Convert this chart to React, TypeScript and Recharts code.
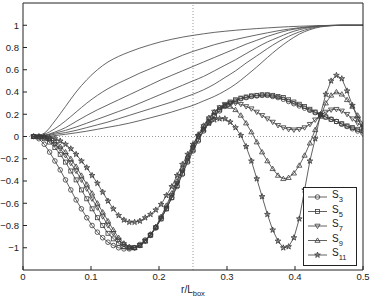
import React from 'react';
import { LineChart, Line, XAxis, YAxis, ReferenceLine, Legend } from 'recharts';

// Marker grid (r / L_box)
const rMarked = [
  0.0156, 0.0234, 0.0313, 0.0391, 0.0469, 0.0547, 0.0625, 0.0703, 0.0781, 0.0859,
  0.0938, 0.1016, 0.1094, 0.1172, 0.125, 0.1328, 0.1406, 0.1484, 0.1563, 0.1641,
  0.1719, 0.1797, 0.1875, 0.1953, 0.2031, 0.2109, 0.2188, 0.2266, 0.2344, 0.2422,
  0.25, 0.2578, 0.2656, 0.2734, 0.2813, 0.2891, 0.2969, 0.3047, 0.3125, 0.3203,
  0.3281, 0.3359, 0.3438, 0.3516, 0.3594, 0.3672, 0.375, 0.3828, 0.3906, 0.3984,
  0.4063, 0.4141, 0.4219, 0.4297, 0.4375, 0.4453, 0.4531, 0.4609, 0.4688, 0.4766,
  0.4844, 0.4922, 0.5,
];

const s3 = [
  0.0, -0.02, -0.07, -0.14, -0.22, -0.3, -0.39, -0.48, -0.57, -0.65,
  -0.73, -0.8, -0.86, -0.91, -0.95, -0.98, -1.0, -1.01, -1.01, -1.0,
  -0.97, -0.93, -0.88, -0.82, -0.74, -0.65, -0.55, -0.45, -0.34, -0.23,
  -0.13, -0.04, 0.05, 0.12, 0.18, 0.23, 0.27, 0.3, 0.32, 0.34,
  0.35, 0.36, 0.365, 0.37, 0.37, 0.36, 0.35, 0.335, 0.315, 0.295,
  0.275, 0.255, 0.235, 0.215, 0.195, 0.175, 0.155, 0.135, 0.11, 0.09,
  0.07, 0.05, 0.03,
];
const s5 = [
  0.0, -0.005, -0.02, -0.05, -0.1, -0.16, -0.23, -0.31, -0.39, -0.48,
  -0.56, -0.65, -0.73, -0.8, -0.87, -0.92, -0.96, -0.99, -1.0, -1.0,
  -0.98, -0.94, -0.89, -0.82, -0.74, -0.65, -0.55, -0.44, -0.33, -0.22,
  -0.12, -0.03, 0.06, 0.13, 0.19, 0.24, 0.28, 0.31, 0.33, 0.345,
  0.355, 0.365, 0.37, 0.375, 0.375, 0.37, 0.36, 0.35, 0.33, 0.31,
  0.29, 0.27, 0.245, 0.22, 0.195, 0.175, 0.155, 0.135, 0.115, 0.095,
  0.08, 0.065, 0.05,
];
const s7 = [
  0.0, 0.0, -0.01, -0.03, -0.07, -0.11, -0.17, -0.24, -0.31, -0.39,
  -0.47, -0.56, -0.64, -0.72, -0.8, -0.87, -0.93, -0.97, -1.0, -1.0,
  -0.98, -0.94, -0.89, -0.82, -0.73, -0.64, -0.53, -0.42, -0.31, -0.2,
  -0.1, 0.0, 0.09, 0.16, 0.22, 0.26, 0.29, 0.3, 0.3, 0.29,
  0.27, 0.25, 0.22, 0.19, 0.16, 0.13, 0.1, 0.08, 0.065, 0.06,
  0.065, 0.08, 0.11, 0.15, 0.19, 0.22, 0.24, 0.245, 0.23, 0.2,
  0.16, 0.12, 0.09,
];
const s9 = [
  0.0, 0.0, -0.005, -0.02, -0.05, -0.09, -0.14, -0.2, -0.27, -0.35,
  -0.43, -0.51, -0.6, -0.68, -0.76, -0.84, -0.91, -0.96, -0.99, -1.0,
  -0.98, -0.94, -0.88, -0.81, -0.72, -0.62, -0.51, -0.4, -0.29, -0.18,
  -0.08, 0.02, 0.1, 0.17, 0.22, 0.26, 0.275, 0.27, 0.24, 0.19,
  0.12, 0.04, -0.05, -0.14, -0.22, -0.29, -0.35, -0.38, -0.37, -0.33,
  -0.26, -0.17, -0.06, 0.06, 0.18, 0.3, 0.37, 0.4, 0.38, 0.33,
  0.27, 0.19, 0.11,
];
const s11 = [
  0.0, 0.0, 0.0, -0.01, -0.02, -0.04, -0.07, -0.11, -0.16, -0.22,
  -0.28, -0.35, -0.42, -0.5, -0.58, -0.65, -0.71, -0.75, -0.77, -0.77,
  -0.76, -0.73, -0.7, -0.66, -0.61, -0.53, -0.45, -0.35, -0.25, -0.16,
  -0.07, 0.01, 0.07, 0.12, 0.15, 0.16, 0.16, 0.13, 0.08, 0.01,
  -0.09, -0.22, -0.38, -0.54, -0.7, -0.84, -0.94, -1.0, -0.99, -0.91,
  -0.74, -0.48, -0.22, -0.02, 0.2, 0.38, 0.5, 0.55, 0.52, 0.41,
  0.28, 0.16, 0.08,
];

// Unmarked monotone curves
const rPlain = [
  0.0156, 0.0313, 0.0469, 0.0625, 0.0781, 0.0938, 0.1094, 0.125, 0.1406, 0.1563,
  0.1719, 0.1875, 0.2031, 0.2188, 0.2344, 0.25, 0.2656, 0.2813, 0.2969, 0.3125,
  0.3281, 0.3438, 0.3594, 0.375, 0.3906, 0.4063, 0.4219, 0.4375, 0.4531, 0.4688,
  0.4844, 0.5,
];
const c1 = [
  0.0, 0.03, 0.14, 0.27, 0.4, 0.51, 0.6, 0.67, 0.72, 0.76,
  0.795, 0.825, 0.852, 0.874, 0.893, 0.909, 0.923, 0.936, 0.946, 0.955,
  0.963, 0.97, 0.976, 0.982, 0.987, 0.991, 0.994, 0.997, 0.999, 1.0,
  1.0, 1.0,
];
const c2 = [
  0.0, 0.02, 0.07, 0.14, 0.22, 0.3, 0.37, 0.43, 0.48, 0.525,
  0.57, 0.61, 0.65, 0.69, 0.73, 0.765, 0.795, 0.825, 0.85, 0.872,
  0.893, 0.913, 0.932, 0.95, 0.965, 0.978, 0.988, 0.995, 0.999, 1.0,
  1.0, 1.0,
];
const c3 = [
  0.0, 0.01, 0.04, 0.08, 0.135, 0.19, 0.24, 0.285, 0.33, 0.375,
  0.42, 0.465, 0.51, 0.55, 0.59, 0.63, 0.67, 0.71, 0.75, 0.79,
  0.83, 0.865, 0.9, 0.93, 0.955, 0.972, 0.985, 0.994, 0.998, 1.0,
  1.0, 1.0,
];
const c4 = [
  0.0, 0.01, 0.03, 0.055, 0.085, 0.12, 0.155, 0.19, 0.225, 0.26,
  0.3, 0.34, 0.38, 0.42, 0.46, 0.5, 0.54, 0.59, 0.64, 0.69,
  0.745, 0.8, 0.85, 0.89, 0.93, 0.96, 0.98, 0.992, 0.998, 1.0,
  1.0, 1.0,
];
const c5 = [
  0.0, 0.005, 0.02, 0.035, 0.055, 0.08, 0.105, 0.13, 0.16, 0.19,
  0.22, 0.25, 0.28, 0.31, 0.345, 0.38, 0.42, 0.47, 0.53, 0.59,
  0.66, 0.725, 0.79, 0.85, 0.9, 0.94, 0.97, 0.99, 0.997, 1.0,
  1.0, 1.0,
];
const c6 = [
  0.0, 0.0, 0.008, 0.02, 0.033, 0.048, 0.065, 0.083, 0.1, 0.12,
  0.143, 0.168, 0.193, 0.22, 0.25, 0.28, 0.32, 0.36, 0.41, 0.47,
  0.545, 0.625, 0.71, 0.79, 0.86, 0.92, 0.96, 0.985, 0.995, 1.0,
  1.0, 1.0,
];

const xTicks = [0, 0.1, 0.2, 0.3, 0.4, 0.5];
const yTicks = [-1, -0.8, -0.6, -0.4, -0.2, 0, 0.2, 0.4, 0.6, 0.8, 1];

const markedSeries = [
  { key: 's3', label: '3', values: s3, shape: 'circle' },
  { key: 's5', label: '5', values: s5, shape: 'square' },
  { key: 's7', label: '7', values: s7, shape: 'triDown' },
  { key: 's9', label: '9', values: s9, shape: 'triUp' },
  { key: 's11', label: '11', values: s11, shape: 'star' },
];
const plainSeries = [c1, c2, c3, c4, c5, c6];

const LINE = '#3a3a3a';
const FONT = 'Liberation Sans, Arial, sans-serif';

function marker(shape: string, cx: number, cy: number, key: string) {
  const common = { fill: 'none', stroke: LINE, strokeWidth: 0.8 };
  if (shape === 'circle') return <circle key={key} cx={cx} cy={cy} r={2.3} {...common} />;
  if (shape === 'square') return <rect key={key} x={cx - 2} y={cy - 2} width={4} height={4} {...common} />;
  if (shape === 'triDown')
    return <polygon key={key} points={`${cx - 2.6},${cy - 1.8} ${cx + 2.6},${cy - 1.8} ${cx},${cy + 2.6}`} {...common} />;
  if (shape === 'triUp')
    return <polygon key={key} points={`${cx - 2.6},${cy + 1.8} ${cx + 2.6},${cy + 1.8} ${cx},${cy - 2.6}`} {...common} />;
  const pts: string[] = [];
  for (let i = 0; i < 10; i++) {
    const rad = i % 2 === 0 ? 3 : 1.2;
    const a = -Math.PI / 2 + (i * Math.PI) / 5;
    pts.push(`${cx + rad * Math.cos(a)},${cy + rad * Math.sin(a)}`);
  }
  return <polygon key={key} points={pts.join(' ')} fill={LINE} fillOpacity={0.4} stroke={LINE} strokeWidth={0.8} />;
}

const fmt = (v: number) => (v < 0 ? '\u2212' + String(Math.abs(v)) : String(v));

function XLabel(props: any) {
  const vb = props.viewBox || {};
  const cx = vb.x + vb.width / 2;
  return (
    <text x={cx} y={293} textAnchor="middle" fontFamily={FONT} fontSize={10} fill="#222">
      r/L
      <tspan fontSize={7.5} dy={3}>box</tspan>
    </text>
  );
}

function LegendBox() {
  const rows = [10, 24.5, 39, 53.5, 68];
  return (
    <svg width={54} height={79} style={{ display: 'block' }}>
      <rect x={0.5} y={0.5} width={53} height={78} fill="#fff" stroke="#222" strokeWidth={1} />
      {markedSeries.map((s, i) => (
        <g key={s.key}>
          <line x1={5} x2={24} y1={rows[i]} y2={rows[i]} stroke={LINE} strokeWidth={0.8} />
          {marker(s.shape, 14.5, rows[i], 'm' + i)}
          <text x={29} y={rows[i] + 1} fontFamily={FONT} fontSize={10} fill="#222">
            S<tspan fontSize={7.5} dy={4}>{s.label}</tspan>
          </text>
        </g>
      ))}
    </svg>
  );
}

export default function App() {
  const markedData = markedSeries.map((s) => rMarked.map((r, i) => ({ r, v: s.values[i] })));
  const plainData = plainSeries.map((c) => rPlain.map((r, i) => ({ r, v: c[i] })));
  const tickStyle = { fontFamily: FONT, fontSize: 9.5, fill: '#222' };
  return (
    <div style={{ position: 'absolute', left: 0, top: 0, background: '#fff' }}>
      <LineChart width={374} height={301} margin={{ top: 2, right: 10, bottom: 0, left: 0 }}>
        <XAxis
          dataKey="r"
          type="number"
          domain={[0, 0.5]}
          ticks={xTicks}
          tickFormatter={fmt}
          allowDataOverflow
          height={31}
          tickSize={-4}
          tickMargin={7}
          tick={tickStyle}
          stroke="#222"
          label={<XLabel />}
        />
        <XAxis
          xAxisId="top"
          orientation="top"
          type="number"
          domain={[0, 0.5]}
          ticks={xTicks}
          allowDataOverflow
          height={1}
          tickSize={-4}
          tick={false}
          stroke="#222"
        />
        <YAxis
          type="number"
          domain={[-1.2, 1.2]}
          ticks={yTicks}
          tickFormatter={fmt}
          allowDataOverflow
          width={23}
          tickSize={-4}
          tickMargin={8}
          tick={tickStyle}
          stroke="#222"
        />
        <YAxis
          yAxisId="right"
          orientation="right"
          type="number"
          domain={[-1.2, 1.2]}
          ticks={yTicks}
          allowDataOverflow
          width={1}
          tickSize={-4}
          tick={false}
          stroke="#222"
        />
        <ReferenceLine y={0} stroke="#9a9a9a" strokeDasharray="1 2" />
        <ReferenceLine x={0.25} stroke="#9a9a9a" strokeDasharray="1 2" />
        {plainData.map((d, i) => (
          <Line
            key={'c' + i}
            data={d}
            dataKey="v"
            type="monotone"
            stroke="#555"
            strokeWidth={0.9}
            dot={false}
            activeDot={false}
            isAnimationActive={false}
          />
        ))}
        {markedSeries.map((s, i) => (
          <Line
            key={s.key}
            data={markedData[i]}
            dataKey="v"
            type="linear"
            stroke={LINE}
            strokeWidth={0.8}
            dot={(p: any) => marker(s.shape, p.cx, p.cy, s.key + '-' + p.index)}
            activeDot={false}
            isAnimationActive={false}
          />
        ))}
        <Legend
          layout="vertical"
          align="center"
          verticalAlign="middle"
          wrapperStyle={{ left: 303, top: 187, width: 54, height: 79 }}
          content={() => <LegendBox />}
        />
      </LineChart>
    </div>
  );
}
